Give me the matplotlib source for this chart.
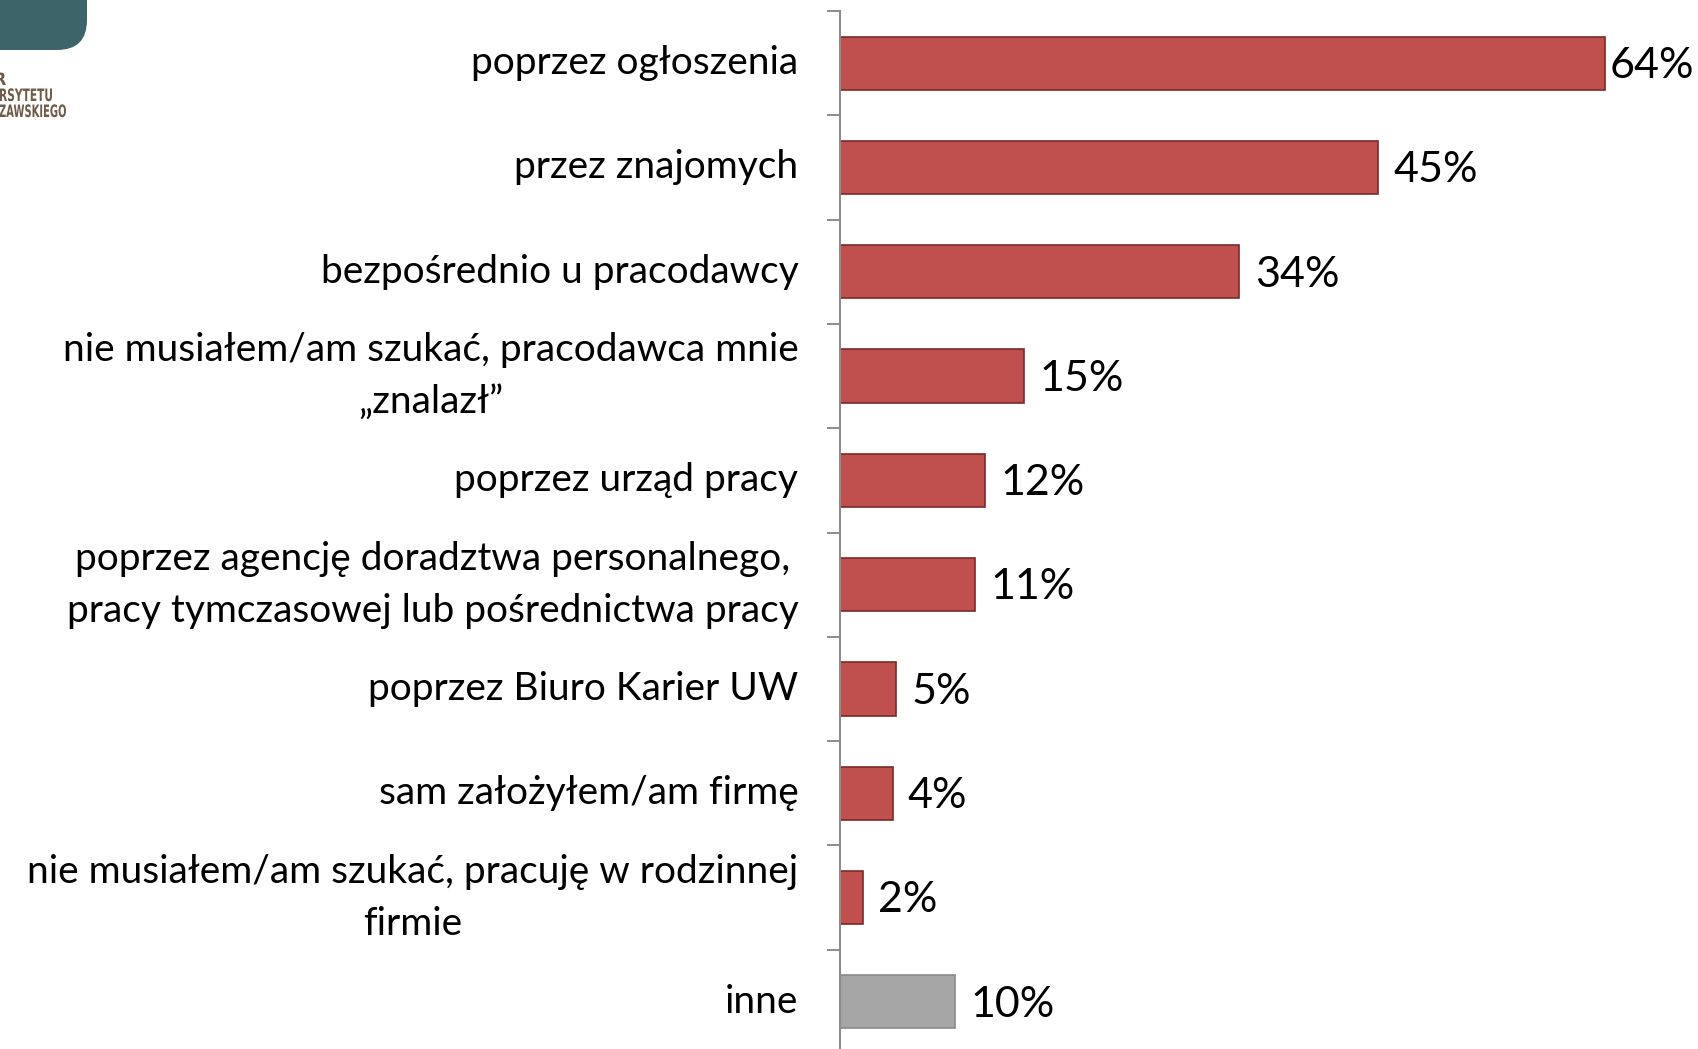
import numpy as np
import matplotlib
matplotlib.use("Agg")
import matplotlib.pyplot as plt
from matplotlib.patches import FancyBboxPatch, PathPatch
from matplotlib.textpath import TextPath
from matplotlib.font_manager import FontProperties
from matplotlib.transforms import Affine2D

# ==========================================
# Data
# ==========================================
categories = [
    "poprzez ogłoszenia",
    "przez znajomych",
    "bezpośrednio u pracodawcy",
    "nie musiałem/am szukać, pracodawca mnie\n„znalazł”",
    "poprzez urząd pracy",
    "poprzez agencję doradztwa personalnego,\npracy tymczasowej lub pośrednictwa pracy",
    "poprzez Biuro Karier UW",
    "sam założyłem/am firmę",
    "nie musiałem/am szukać, pracuję w rodzinnej\nfirmie",
    "inne",
]
values = [64.0, 45.0, 33.4, 15.4, 12.1, 11.3, 4.7, 4.4, 1.9, 9.6]
value_labels = ["64%", "45%", "34%", "15%", "12%", "11%", "5%", "4%", "2%", "10%"]
is_other = [False] * 9 + [True]

logo_lines = ["R", "RSYTETU", "ZAWSKIEGO"]

# ==========================================
# Style
# ==========================================
FONT = "Lato"
RED, RED_EDGE = "#C0504D", "#7A2A28"
GREY, GREY_EDGE = "#A6A6A6", "#8A8A8A"
AXIS_GREY = "#8C8C8C"

W, H = 1698, 1049
fig = plt.figure(figsize=(W / 100, H / 100), dpi=100)
fig.patch.set_facecolor("white")

# axes placed in pixel terms: axis line at x=840, bands from y=11 down to 1054
ax = fig.add_axes([840 / W, 1 - 1054 / H, (W - 840) / W, 1043 / H])

y = np.arange(len(categories))
colors = [GREY if o else RED for o in is_other]
edges = [GREY_EDGE if o else RED_EDGE for o in is_other]
ax.barh(y, values, height=0.51, color=colors, edgecolor=edges, linewidth=1.2, zorder=2)

ax.set_xlim(0, (W - 840) / 11.96)
ax.set_ylim(len(categories) - 0.5, -0.5)

value_texts = []
for yi, v, lab in zip(y, values, value_labels):
    t = ax.annotate(lab, (v, yi), xytext=(11, -2), textcoords="offset points",
                    ha="left", va="center", fontsize=31, family=FONT, color="black")
    value_texts.append(t)

ax.set_yticks(y)
ax.set_yticklabels(categories, fontsize=28, family=FONT)
for t in ax.get_yticklabels():
    t.set_multialignment("center")
    t.set_linespacing(1.55)
    t.set_verticalalignment("center")
ax.tick_params(axis="y", which="major", length=0, pad=30)
ax.set_yticks(np.arange(-0.5, len(categories), 1), minor=True)
ax.tick_params(axis="y", which="minor", length=9.5, width=1.4, color=AXIS_GREY, direction="out")

ax.set_xticks([])
for s in ["top", "right", "bottom"]:
    ax.spines[s].set_visible(False)
ax.spines["left"].set_color(AXIS_GREY)
ax.spines["left"].set_linewidth(1.5)

# like the original, a label that would run off the right edge is pulled in
fig.canvas.draw()
renderer = fig.canvas.get_renderer()
for t in value_texts:
    bb = t.get_window_extent(renderer)
    over = bb.x1 - (W - 4)
    if over > 0:
        dx, dy = t.xyann
        t.xyann = (dx - over * 72 / 100, dy)

# ==========================================
# Partial logo in the top-left corner
# ==========================================
lax = fig.add_axes([0, 0, 1, 1], zorder=-1)
lax.set_xlim(0, W)
lax.set_ylim(H, 0)
lax.axis("off")
lax.add_patch(FancyBboxPatch((-120, -60), 207, 110, boxstyle="round,pad=0,rounding_size=30",
                             facecolor="#3D6468", edgecolor="none"))

prop = FontProperties(family="DejaVu Sans", weight="bold")
cap = 12.5
# (right edge, baseline) in pixels; the lines are cut by the left image edge
right_edges = [6, 52, 66]
baselines = [85, 101, 117]
for i, (line, xr, yb) in enumerate(zip(logo_lines, right_edges, baselines)):
    tp = TextPath((0, 0), line, size=1, prop=prop)
    w = tp.get_extents().x1
    target = xr + 1 if i > 0 else 12
    tr = Affine2D().translate(-w, 0).scale(target / w, -cap / 0.73).translate(xr, yb)
    lax.add_patch(PathPatch(tr.transform_path(tp), facecolor="#6E5B48", edgecolor="none"))

fig.savefig("out.png", dpi=100, facecolor="white")
